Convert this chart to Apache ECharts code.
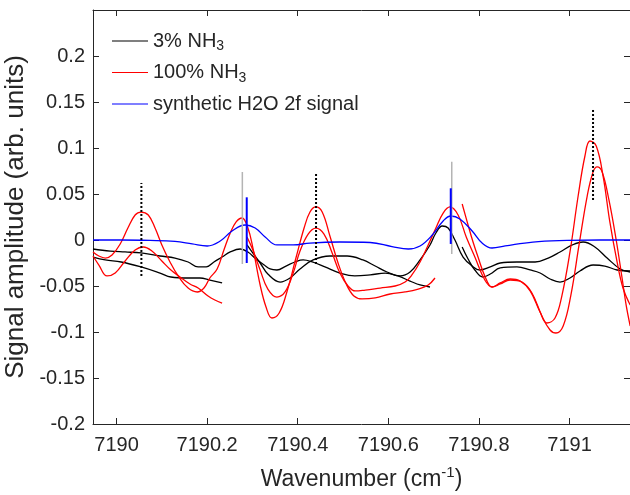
<!DOCTYPE html>
<html><head><meta charset="utf-8">
<script src="https://cdn.jsdelivr.net/npm/echarts@6/dist/echarts.min.js"></script>
<style>html,body{margin:0;padding:0;background:#fff}#c{width:630px;height:495px}</style>
</head><body><div id="c"></div>
<script>
// ---- data (wavenumber in cm^-1, signal in arb. units) ----
const h2oX = [7189.948, 7190.008, 7190.074, 7190.129, 7190.167, 7190.200, 7190.229, 7190.255, 7190.284, 7190.306, 7190.328, 7190.354, 7190.390, 7190.427, 7190.493, 7190.560, 7190.608, 7190.644, 7190.670, 7190.697, 7190.721, 7190.738, 7190.758, 7190.785, 7190.807, 7190.829, 7190.858, 7190.919, 7190.995, 7191.067, 7191.134];
const h2oY = [0, 0, -0.0005, -0.0016, -0.0043, -0.0065, -0.0011, 0.0098, 0.0163, 0.0130, 0.0033, -0.0054, -0.0054, -0.0033, -0.0022, -0.0027, -0.0071, -0.0098, -0.0065, 0.0054, 0.0207, 0.0261, 0.0228, 0.0098, -0.0033, -0.0087, -0.0065, -0.0022, -0.0005, 0, 0];

// 3% NH3 (black)
const lowPx1 = [7189.948, 7189.986, 7190.019, 7190.054, 7190.096, 7190.129, 7190.158, 7190.180, 7190.198, 7190.215, 7190.233, 7190.251, 7190.273, 7190.290, 7190.308, 7190.326, 7190.339, 7190.354, 7190.374, 7190.394, 7190.412, 7190.432, 7190.460, 7190.493, 7190.526, 7190.560, 7190.593, 7190.621, 7190.648, 7190.670, 7190.692];
const lowPy1 = [-0.0098, -0.0120, -0.0130, -0.0141, -0.0174, -0.0196, -0.0239, -0.0293, -0.0293, -0.0239, -0.0185, -0.0130, -0.0098, -0.0130, -0.0207, -0.0272, -0.0315, -0.0326, -0.0283, -0.0239, -0.0217, -0.0239, -0.0293, -0.0359, -0.0391, -0.0380, -0.0359, -0.0391, -0.0446, -0.0489, -0.0511];
const lowPx2 = [7190.763, 7190.776, 7190.791, 7190.809, 7190.825, 7190.847, 7190.884, 7190.913, 7190.935, 7190.957, 7190.979, 7191.001, 7191.023, 7191.052, 7191.078, 7191.105, 7191.134];
const lowPy2 = [-0.0076, -0.0207, -0.0326, -0.0402, -0.0370, -0.0304, -0.0293, -0.0326, -0.0359, -0.0424, -0.0457, -0.0413, -0.0337, -0.0272, -0.0283, -0.0326, -0.0337];
const lowQx1 = [7189.948, 7189.975, 7190.010, 7190.054, 7190.096, 7190.120, 7190.158, 7190.184, 7190.206, 7190.233];
const lowQy1 = [-0.0185, -0.0217, -0.0239, -0.0293, -0.0359, -0.0402, -0.0413, -0.0413, -0.0435, -0.0467];
const lowQx2 = [7190.288, 7190.299, 7190.317, 7190.334, 7190.361, 7190.383, 7190.405, 7190.434, 7190.471, 7190.509, 7190.544, 7190.571, 7190.597, 7190.626, 7190.648, 7190.670, 7190.692, 7190.705, 7190.719, 7190.732, 7190.747, 7190.765, 7190.785, 7190.802, 7190.825, 7190.847, 7190.884, 7190.924, 7190.953, 7190.979, 7191.006, 7191.030, 7191.056, 7191.083, 7191.112, 7191.134];
const lowQy2 = [-0.0054, -0.0130, -0.0250, -0.0370, -0.0457, -0.0413, -0.0315, -0.0217, -0.0174, -0.0174, -0.0217, -0.0283, -0.0348, -0.0391, -0.0348, -0.0217, -0.0054, 0.0076, 0.0152, 0.0130, 0, -0.0185, -0.0283, -0.0326, -0.0293, -0.0250, -0.0239, -0.0239, -0.0196, -0.0130, -0.0054, -0.0022, -0.0076, -0.0196, -0.0315, -0.0348];

// 100% NH3 (red)
const highPx1 = [7189.948, 7189.961, 7189.975, 7189.990, 7190.008, 7190.025, 7190.041, 7190.054, 7190.070, 7190.085, 7190.100, 7190.118, 7190.136, 7190.158, 7190.178, 7190.193, 7190.206, 7190.222, 7190.237, 7190.251, 7190.264, 7190.277, 7190.290, 7190.301, 7190.317, 7190.330, 7190.343, 7190.359, 7190.376, 7190.396, 7190.414, 7190.427, 7190.440, 7190.454, 7190.471, 7190.489, 7190.507, 7190.524, 7190.542, 7190.571, 7190.604, 7190.637, 7190.666, 7190.688, 7190.703];
const highPy1 = [-0.0130, -0.0174, -0.0196, -0.0163, -0.0043, 0.0130, 0.0272, 0.0304, 0.0272, 0.0130, -0.0054, -0.0239, -0.0391, -0.0522, -0.0565, -0.0522, -0.0413, -0.0315, -0.0109, 0.0076, 0.0196, 0.0239, 0.0130, -0.0087, -0.0489, -0.0728, -0.0848, -0.0794, -0.0565, -0.0196, 0.0130, 0.0304, 0.0359, 0.0304, 0.0043, -0.0250, -0.0478, -0.0609, -0.0641, -0.0630, -0.0587, -0.0565, -0.0533, -0.0489, -0.0413];
const highPx2 = [7190.763, 7190.776, 7190.787, 7190.798, 7190.813, 7190.829, 7190.847, 7190.869, 7190.895, 7190.917, 7190.939, 7190.957, 7190.970, 7190.986, 7191.003, 7191.021, 7191.039, 7191.052, 7191.061, 7191.072, 7191.087, 7191.103, 7191.116, 7191.125, 7191.134];
const highPy2 = [0.0391, 0.0163, -0.0022, -0.0185, -0.0391, -0.0511, -0.0478, -0.0435, -0.0457, -0.0576, -0.0826, -0.0978, -0.1011, -0.0935, -0.0598, -0.0054, 0.0478, 0.0739, 0.0794, 0.0739, 0.0435, 0, -0.0413, -0.0707, -0.0935];
const highQx1 = [7189.948, 7189.961, 7189.979, 7189.997, 7190.019, 7190.041, 7190.059, 7190.078, 7190.100, 7190.120, 7190.140, 7190.162, 7190.180, 7190.202, 7190.217, 7190.233];
const highQy1 = [-0.0174, -0.0272, -0.0391, -0.0359, -0.0228, -0.0109, -0.0076, -0.0120, -0.0228, -0.0326, -0.0402, -0.0478, -0.0522, -0.0609, -0.0652, -0.0685];
const highQx2 = [7190.288, 7190.301, 7190.317, 7190.334, 7190.354, 7190.372, 7190.390, 7190.405, 7190.423, 7190.440, 7190.458, 7190.476, 7190.493, 7190.511, 7190.527, 7190.549, 7190.582, 7190.615, 7190.637, 7190.652, 7190.670, 7190.688, 7190.705, 7190.721, 7190.736, 7190.754, 7190.772, 7190.791, 7190.813, 7190.829, 7190.847, 7190.869, 7190.891, 7190.913, 7190.935, 7190.950, 7190.968, 7190.983, 7191.001, 7191.019, 7191.034, 7191.045, 7191.059, 7191.074, 7191.089, 7191.105, 7191.118, 7191.134];
const highQy2 = [0.0033, -0.0109, -0.0326, -0.0533, -0.0620, -0.0565, -0.0359, -0.0120, 0.0065, 0.0130, 0.0065, -0.0141, -0.0359, -0.0500, -0.0554, -0.0544, -0.0522, -0.0500, -0.0457, -0.0380, -0.0239, -0.0054, 0.0130, 0.0293, 0.0359, 0.0272, 0.0033, -0.0185, -0.0435, -0.0511, -0.0467, -0.0424, -0.0446, -0.0554, -0.0783, -0.0902, -0.0848, -0.0609, -0.0130, 0.0478, 0.0913, 0.1076, 0.1022, 0.0696, 0.0196, -0.0239, -0.0522, -0.0707];

// vertical marker lines
const dottedX = [7190.0548, 7190.4404, 7191.0519];
const dottedTop = [0.0620, 0.0739, 0.1435];
const dottedBottom = [-0.0391, -0.0261, 0.0435];
const grayX = [7190.2777, 7190.7400];
const grayTop = [0.0739, 0.0851];
const grayBottom = [-0.0261, -0.0152];
const blueVX = [7190.2874, 7190.7378];
const blueVTop = [0.0464, 0.0562];
const blueVBottom = [-0.0250, -0.0043];

// axes
const xMin = 7189.948, xMax = 7191.1335;
const yMin = -0.2, yMax = 0.25, yStep = 0.05;
const legendNames = ['3% NH3', '100% NH3', 'synthetic H2O 2f signal'];

// ---- build ----
const TXT = '#262626';
const FONT = 'Liberation Sans, Arial, Helvetica, sans-serif';
const zip = (xs, ys) => xs.map((x, i) => [x, ys[i]]);
function curve(name, xs, ys, color, z) {
  return { name, type: 'line', data: zip(xs, ys), showSymbol: false, symbol: 'none',
    smooth: 0.4, lineStyle: { color, width: 1.3 }, itemStyle: { color }, z, silent: true, animation: false };
}
function vlines(prefix, xs, tops, bots, color, width, type, z) {
  return xs.map((x, i) => ({ name: prefix + i, type: 'line', data: [[x, bots[i]], [x, tops[i]]],
    showSymbol: false, symbol: 'none', lineStyle: { color, width, type }, itemStyle: { color }, z, silent: true, animation: false }));
}
const series = [
  curve(legendNames[0], lowPx1, lowPy1, '#000000', 2),
  curve('k2', lowPx2, lowPy2, '#000000', 2),
  curve('k3', lowQx1, lowQy1, '#000000', 2),
  curve('k4', lowQx2, lowQy2, '#000000', 2),
  curve(legendNames[1], highPx1, highPy1, '#ff0000', 3),
  curve('r2', highPx2, highPy2, '#ff0000', 3),
  curve('r3', highQx1, highQy1, '#ff0000', 3),
  curve('r4', highQx2, highQy2, '#ff0000', 3),
  curve(legendNames[2], h2oX, h2oY, '#0000ff', 4),
  ...vlines('g', grayX, grayTop, grayBottom, '#b4b4b4', 1.5, 'solid', 5),
  ...vlines('bv', blueVX, blueVTop, blueVBottom, '#0000ff', 2, 'solid', 6),
  ...vlines('d', dottedX, dottedTop, dottedBottom, '#000000', 2, [2, 2], 7)
];
const axisLine = { show: true, onZero: false, lineStyle: { color: TXT, width: 1 } };
const tick = { show: true, inside: true, length: 6, lineStyle: { color: TXT } };
const chart = echarts.init(document.getElementById('c'), null, { renderer: 'canvas' });
chart.setOption({
  animation: false,
  backgroundColor: '#fff',
  grid: { left: 93, top: 10, right: 0, bottom: 71, containLabel: false, outerBoundsMode: 'none' },
  legend: {
    data: legendNames, orient: 'vertical', left: 112, top: 28, padding: 0,
    itemWidth: 36, itemHeight: 1, itemGap: 5.5, icon: 'rect', selectedMode: false,
    formatter: n => ({ '3% NH3': '3% NH{sub|3}', '100% NH3': '100% NH{sub|3}' }[n] || n),
    textStyle: { fontFamily: FONT, fontSize: 20, color: TXT, lineHeight: 26,
      rich: { sub: { fontFamily: FONT, fontSize: 14, color: TXT, lineHeight: 15, padding: [11, 0, 0, 0] } } }
  },
  xAxis: [{
    type: 'value', min: xMin, max: xMax, splitNumber: 6, axisLine, axisTick: tick, splitLine: { show: false },
    axisLabel: { fontFamily: FONT, fontSize: 20, color: TXT, margin: 11, showMinLabel: false, showMaxLabel: false,
      formatter: v => String(Math.round(v * 10) / 10) },
    name: 'Wavenumber (cm{sup|-1})', nameLocation: 'middle', nameGap: 41,
    nameTextStyle: { fontFamily: FONT, fontSize: 23, color: TXT,
      rich: { sup: { fontFamily: FONT, fontSize: 15, color: TXT, padding: [0, 0, 14, 0] } } }
  }, {
    type: 'value', position: 'top', min: xMin, max: xMax, splitNumber: 6, axisLine, axisTick: tick,
    axisLabel: { show: false }, splitLine: { show: false }
  }],
  yAxis: [{
    type: 'value', min: yMin, max: yMax, interval: yStep, axisLine, axisTick: tick, splitLine: { show: false },
    axisLabel: { fontFamily: FONT, fontSize: 20, color: TXT, margin: 8, showMaxLabel: false },
    name: 'Signal amplitude (arb. units)', nameLocation: 'middle', nameGap: 60,
    nameTextStyle: { fontFamily: FONT, fontSize: 26, color: TXT }
  }, {
    type: 'value', position: 'right', min: yMin, max: yMax, interval: yStep, axisLine, axisTick: tick,
    axisLabel: { show: false }, splitLine: { show: false }
  }],
  series
});
</script></body></html>
